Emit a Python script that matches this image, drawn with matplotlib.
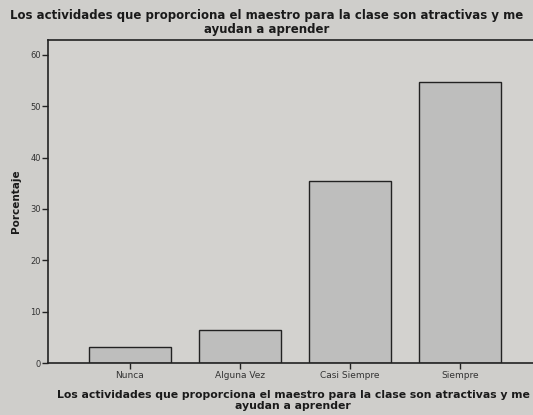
import matplotlib
matplotlib.use("Agg")
import matplotlib.pyplot as plt

categorias = ['Nunca', 'Alguna Vez', 'Casi Siempre', 'Siempre']
porcentajes = [3.2, 6.4, 35.5, 54.8]
yticks = [0, 10, 20, 30, 40, 50, 60]

titulo = 'Los actividades que proporciona el maestro para la clase son atractivas y me\nayudan a aprender'

fondo = '#cfcecb'
barra = '#bebebd'

fig = plt.figure(figsize=(5.33, 4.15), dpi=100, facecolor=fondo)
ax = fig.add_axes([0.090, 0.1253, 0.927, 0.7795])
ax.set_facecolor('#d3d2cf')

ax.bar(range(len(categorias)), porcentajes, width=0.75, color=barra,
       edgecolor='#222222', linewidth=1.0)

ax.set_xlim(-0.745, len(categorias) - 1 + 0.745)
ax.set_ylim(0, 63)
ax.set_yticks(yticks)
ax.set_xticks(range(len(categorias)))
ax.set_xticklabels(categorias, fontsize=6.5, family='Liberation Sans Narrow', color='#333333')
ax.tick_params(axis='y', labelsize=6, length=4, width=1, color='#222222', labelcolor='#333333', pad=1)
ax.tick_params(axis='x', length=4, width=1, color='#222222', pad=2)
for lado in ax.spines.values():
    lado.set_color('#222222')
    lado.set_linewidth(1.2)

ax.set_ylabel('Porcentaje', fontsize=7.5, fontweight='bold', color='#1a1a1a', labelpad=7)
fig.text(0.5, 0.978, titulo, ha='center', va='top', fontsize=8.45,
         fontweight='bold', color='#1a1a1a', linespacing=1.05)
fig.text(0.55, 0.06, titulo, ha='center', va='top', fontsize=7.8,
         fontweight='bold', color='#1a1a1a', linespacing=1.1)

fig.savefig('out.png', dpi=100, facecolor=fondo)
